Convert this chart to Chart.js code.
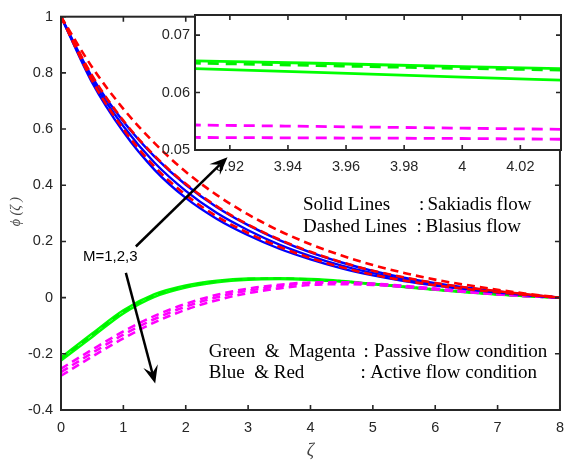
<!DOCTYPE html>
<html>
<head>
<meta charset="utf-8">
<script src="https://cdn.jsdelivr.net/npm/chart.js@4.4.1/dist/chart.umd.min.js"></script>
<style>
  html, body { margin: 0; padding: 0; background: #fff; }
  #wrap { position: relative; width: 573px; height: 461px; }
  #wrap canvas { position: absolute; top: 0; }
  #mainChart { left: 0; }
  #insetChart { left: 150px; }
  #overlay { left: 0; pointer-events: none; }
</style>
</head>
<body>
<div id="wrap">
  <canvas id="mainChart" width="573" height="461"></canvas>
  <canvas id="insetChart" width="423" height="180"></canvas>
  <canvas id="overlay" width="573" height="461"></canvas>
</div>
<script>
// values, M = 1, 2, 3
const zeta = [0, 0.5, 1, 1.5, 2, 2.5, 3, 3.5, 4, 4.5, 5, 5.5, 6, 6.5, 7, 7.5, 8];

const blueM1 = [1, 0.765, 0.590, 0.455, 0.355, 0.280, 0.222, 0.174, 0.136, 0.104, 0.079, 0.059, 0.043, 0.030, 0.018, 0.008, 0];
const blueM2 = [1, 0.775, 0.610, 0.480, 0.380, 0.301, 0.240, 0.189, 0.148, 0.114, 0.087, 0.065, 0.047, 0.033, 0.020, 0.009, 0];
const blueM3 = [1, 0.785, 0.627, 0.502, 0.402, 0.322, 0.258, 0.205, 0.161, 0.125, 0.095, 0.071, 0.051, 0.035, 0.022, 0.010, 0];

const redM1 = [1, 0.772, 0.600, 0.466, 0.366, 0.289, 0.230, 0.181, 0.141, 0.108, 0.082, 0.061, 0.044, 0.031, 0.019, 0.009, 0];
const redM2 = [1, 0.790, 0.630, 0.505, 0.405, 0.325, 0.260, 0.207, 0.163, 0.126, 0.096, 0.072, 0.052, 0.036, 0.023, 0.011, 0];
const redM3 = [1, 0.820, 0.672, 0.550, 0.448, 0.365, 0.296, 0.238, 0.190, 0.150, 0.116, 0.088, 0.064, 0.045, 0.028, 0.013, 0];

const greenM1 = [-0.213, -0.128, -0.045, 0.012, 0.043, 0.060, 0.068, 0.069, 0.066, 0.059, 0.049, 0.039, 0.029, 0.020, 0.012, 0.005, 0];
const greenM2 = [-0.218, -0.133, -0.050, 0.008, 0.040, 0.058, 0.066, 0.068, 0.065, 0.058, 0.049, 0.039, 0.029, 0.020, 0.012, 0.005, 0];
const greenM3 = [-0.224, -0.140, -0.056, 0.003, 0.036, 0.055, 0.064, 0.066, 0.063, 0.057, 0.048, 0.038, 0.028, 0.019, 0.011, 0.005, 0];

const magentaM1 = [-0.253, -0.185, -0.120, -0.065, -0.022, 0.010, 0.032, 0.046, 0.054, 0.055, 0.050, 0.042, 0.032, 0.022, 0.013, 0.006, 0];
const magentaM2 = [-0.265, -0.197, -0.132, -0.076, -0.032, 0.001, 0.025, 0.041, 0.052, 0.053, 0.048, 0.040, 0.031, 0.021, 0.012, 0.005, 0];
const magentaM3 = [-0.278, -0.210, -0.145, -0.088, -0.043, -0.009, 0.016, 0.033, 0.045, 0.048, 0.045, 0.038, 0.029, 0.020, 0.012, 0.005, 0];

// zoomed window around zeta = 4
const insetZeta = [3.90, 3.95, 4.00, 4.05];
const insetGreenM1 = [0.0656, 0.0651, 0.0645, 0.0640];
const insetGreenM2 = [0.0652, 0.0647, 0.0642, 0.0638];
const insetGreenM3 = [0.0643, 0.0635, 0.0627, 0.0619];
const insetMagentaM1 = [0.0544, 0.0541, 0.0538, 0.0535];
const insetMagentaM2 = [0.0522, 0.0521, 0.0520, 0.0518];
const insetMagentaM3 = [0.0478, 0.0477, 0.0476, 0.0475];

// tick labels
const mainXTicks = [0, 1, 2, 3, 4, 5, 6, 7, 8];
const mainYTicks = [-0.4, -0.2, 0, 0.2, 0.4, 0.6, 0.8, 1];
const insetXTicks = [3.92, 3.94, 3.96, 3.98, 4.00, 4.02];
const insetYTicks = [0.05, 0.06, 0.07];

const AXIS = '#262626';
const tickFont = { family: 'Arial, "Liberation Sans", Helvetica, sans-serif', size: 14.5 };

function fmt(digits) {
    return v => parseFloat(Number(v).toFixed(digits)).toString();
}

function series(xs, ys, color, dash, width) {
    return {
        data: xs.map((x, i) => ({ x: x, y: ys[i] })),
        borderColor: color,
        backgroundColor: color,
        borderWidth: width,
        borderDash: dash,
        pointRadius: 0,
        fill: false,
        cubicInterpolationMode: 'monotone',
        clip: 0
    };
}

// MATLAB-like box with inward ticks on all four sides
const boxPlugin = {
    id: 'box',
    beforeDraw(chart, args, opts) {
        if (!opts.fill) return;
        const a = chart.chartArea;
        chart.ctx.save();
        chart.ctx.fillStyle = '#fff';
        chart.ctx.fillRect(a.left, a.top, a.right - a.left, a.bottom - a.top);
        chart.ctx.restore();
    },
    afterDraw(chart, args, opts) {
        const ctx = chart.ctx;
        const a = chart.chartArea;
        const xs = chart.scales.x, ys = chart.scales.y;
        const L = 5;
        ctx.save();
        ctx.strokeStyle = AXIS;
        ctx.lineWidth = 1.6;
        ctx.beginPath();
        xs.ticks.forEach(t => {
            const p = xs.getPixelForValue(t.value);
            ctx.moveTo(p, a.bottom); ctx.lineTo(p, a.bottom - L);
            ctx.moveTo(p, a.top); ctx.lineTo(p, a.top + L);
        });
        ys.ticks.forEach(t => {
            const p = ys.getPixelForValue(t.value);
            ctx.moveTo(a.left, p); ctx.lineTo(a.left + L, p);
            ctx.moveTo(a.right, p); ctx.lineTo(a.right - L, p);
        });
        ctx.stroke();
        ctx.lineWidth = 2;
        ctx.strokeRect(a.left, a.top, a.right - a.left, a.bottom - a.top);
        ctx.restore();
    }
};

function drawArrow(ctx, x1, y1, x2, y2) {
    const ang = Math.atan2(y2 - y1, x2 - x1);
    const c = Math.cos(ang), s = Math.sin(ang);
    const headLen = 18, half = 7.5, notch = 11;
    ctx.beginPath();
    ctx.moveTo(x1, y1);
    ctx.lineTo(x2 - c * notch, y2 - s * notch);
    ctx.stroke();
    ctx.beginPath();
    ctx.moveTo(x2, y2);
    ctx.lineTo(x2 - c * headLen - s * half, y2 - s * headLen + c * half);
    ctx.lineTo(x2 - c * notch, y2 - s * notch);
    ctx.lineTo(x2 - c * headLen + s * half, y2 - s * headLen - c * half);
    ctx.closePath();
    ctx.fill();
}

// text notes, in (zeta, phi) units
const serif = '19px "Times New Roman", "Liberation Serif", serif';
const notes = [
    ['Solid Lines', 3.88, 0.331], [':', 5.74, 0.331], ['Sakiadis flow', 5.875, 0.331],
    ['Dashed Lines', 3.88, 0.253], [':', 5.70, 0.253], ['Blasius flow', 5.845, 0.253],
    ['Green  &  Magenta', 2.37, -0.192], [':', 4.85, -0.192], ['Passive flow condition', 5.02, -0.192],
    ['Blue  & Red', 2.37, -0.269], [':', 4.80, -0.269], ['Active flow condition', 4.96, -0.269]
];

const notesPlugin = {
    id: 'notes',
    afterDraw(chart) {
        const X = v => chart.scales.x.getPixelForValue(v);
        const Y = v => chart.scales.y.getPixelForValue(v);
        const a = chart.chartArea;

        // axis titles on the main canvas
        const ctx = chart.ctx;
        ctx.save();
        ctx.fillStyle = '#444';
        ctx.textAlign = 'center';
        ctx.textBaseline = 'middle';
        ctx.font = 'italic 18px "Times New Roman", "Liberation Serif", serif';
        ctx.fillText('\u03B6', X(4), a.bottom + 41);
        ctx.translate(a.left - 45, Y(0.306));
        ctx.rotate(-Math.PI / 2);
        ctx.font = 'italic 14px "Times New Roman", "Liberation Serif", serif';
        ctx.fillText('\u03D5 (\u03B6 )', 0, 0);
        ctx.restore();

        // arrows and notes go on the top layer so they sit over the inset labels
        const ov = document.getElementById('overlay').getContext('2d');
        ov.clearRect(0, 0, 573, 461);
        ov.save();
        ov.strokeStyle = '#000';
        ov.fillStyle = '#000';
        ov.lineWidth = 2.5;
        drawArrow(ov, X(1.20), Y(0.182), X(2.67), Y(0.50));
        drawArrow(ov, X(1.04), Y(0.088), X(1.51), Y(-0.306));
        ov.textBaseline = 'middle';
        ov.textAlign = 'center';
        ov.font = '15px Arial, "Liberation Sans", sans-serif';
        ov.fillText('M=1,2,3', X(0.79), Y(0.144));
        ov.textAlign = 'left';
        ov.font = serif;
        notes.forEach(n => ov.fillText(n[0], X(n[1]), Y(n[2])));
        ov.restore();
    }
};

function axis(min, max, tickList, digits, fit, padding) {
    return {
        type: 'linear',
        min: min,
        max: max,
        afterBuildTicks: s => { s.ticks = tickList.map(v => ({ value: v })); },
        afterFit: fit,
        grid: { display: false, drawTicks: false },
        border: { display: false },
        ticks: {
            color: AXIS,
            font: tickFont,
            padding: padding,
            maxRotation: 0,
            autoSkip: false,
            callback: fmt(digits)
        }
    };
}

new Chart(document.getElementById('mainChart'), {
    type: 'line',
    data: {
        datasets: [
            series(zeta, redM3, '#ff0000', [8, 5], 2.6),
            series(zeta, redM2, '#ff0000', [8, 5], 2.6),
            series(zeta, redM1, '#ff0000', [8, 5], 2.6),
            series(zeta, blueM3, '#0000ff', [], 2.4),
            series(zeta, blueM2, '#0000ff', [], 2.4),
            series(zeta, blueM1, '#0000ff', [], 2.4),
            series(zeta, magentaM1, '#ff00ff', [8, 5], 2.6),
            series(zeta, magentaM2, '#ff00ff', [8, 5], 2.6),
            series(zeta, magentaM3, '#ff00ff', [8, 5], 2.6),
            series(zeta, greenM2, '#00ee00', [8, 5], 2.5),
            series(zeta, greenM1, '#00ff00', [], 2.5),
            series(zeta, greenM3, '#00ff00', [], 2.5)
        ]
    },
    options: {
        responsive: false,
        animation: false,
        devicePixelRatio: 1,
        layout: { padding: { left: 0, top: 13, right: 6, bottom: 0 } },
        plugins: {
            legend: { display: false },
            tooltip: { enabled: false },
            box: { fill: false }
        },
        scales: {
            x: axis(0, 8, mainXTicks, 0, s => { s.height = 51; }, 9),
            y: axis(-0.4, 1, mainYTicks, 1, s => { s.width = 61; }, 8)
        }
    },
    plugins: [boxPlugin, notesPlugin]
});

new Chart(document.getElementById('insetChart'), {
    type: 'line',
    data: {
        datasets: [
            series(insetZeta, insetGreenM2, '#00ee00', [11, 7], 2.8),
            series(insetZeta, insetGreenM1, '#00ff00', [], 2.8),
            series(insetZeta, insetGreenM3, '#00ff00', [], 2.8),
            series(insetZeta, insetMagentaM1, '#ff00ff', [11, 7], 2.8),
            series(insetZeta, insetMagentaM2, '#ff00ff', [11, 7], 2.8),
            series(insetZeta, insetMagentaM3, '#ff00ff', [11, 7], 2.8)
        ]
    },
    options: {
        responsive: false,
        animation: false,
        devicePixelRatio: 1,
        layout: { padding: { left: 0, top: 15, right: 12, bottom: 0 } },
        plugins: {
            legend: { display: false },
            tooltip: { enabled: false },
            box: { fill: true }
        },
        scales: {
            x: axis(3.908, 4.034, insetXTicks, 2, s => { s.height = 30; }, 8),
            y: axis(0.05, 0.0735, insetYTicks, 2, s => { s.width = 45; }, 5)
        }
    },
    plugins: [boxPlugin]
});
</script>
</body>
</html>
